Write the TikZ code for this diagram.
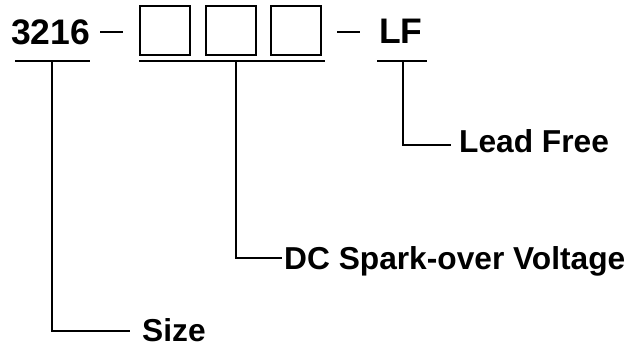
\documentclass[tikz,border=0pt]{standalone}
\usepackage{fontspec}
\setmainfont{Liberation Sans}
\begin{document}
\begin{tikzpicture}[x=1pt,y=-1pt,
  big/.style={font=\fontsize{35.5}{35.5}\selectfont\bfseries, inner sep=0pt, anchor=base west},
  lbl/.style={font=\fontsize{31.7}{31.7}\selectfont\bfseries, inner sep=0pt, anchor=base west},
  slot/.style={draw, line width=1.6pt, minimum width=50pt, minimum height=49pt, inner sep=0pt, anchor=north west},
  wire/.style={line width=1.5pt}]
\useasboundingbox (0,0) rectangle (630,347);
% code parts
\node[big] (size) at (11,45) {3216};
\node[slot] (b1) at (139,5) {};
\node[slot] (b2) at (205,5) {};
\node[slot] (b3) at (270,5) {};
\node[big] (lf) at (379,44) {LF};
% dashes
\coordinate (d1a) at (100,32); \coordinate (d1b) at (123,32);
\coordinate (d2a) at (337,32); \coordinate (d2b) at (360,32);
\draw[wire] (d1a) -- (d1b);
\draw[wire] (d2a) -- (d2b);
% underlines
\coordinate (u1a) at (15,61); \coordinate (u1b) at (90,61);
\coordinate (u2a) at (139,61); \coordinate (u2b) at (325,61);
\coordinate (u3a) at (377,61); \coordinate (u3b) at (427,61);
\draw[wire] (u1a) -- (u1b);
\draw[wire] (u2a) -- (u2b);
\draw[wire] (u3a) -- (u3b);
% labels
\node[lbl] (tlf) at (459,153) {Lead Free};
\node[lbl] (tdc) at (284,270) {DC Spark-over Voltage};
\node[lbl] (tsz) at (142,342) {Size};
% leaders
\coordinate (v1) at (52,61);  \coordinate (e1) at (130,331);
\coordinate (v2) at (236,61); \coordinate (e2) at (282,258);
\coordinate (v3) at (403,61); \coordinate (e3) at (451,145);
\draw[wire] (v1) |- (e1);
\draw[wire] (v2) |- (e2);
\draw[wire] (v3) |- (e3);
\end{tikzpicture}
\end{document}
